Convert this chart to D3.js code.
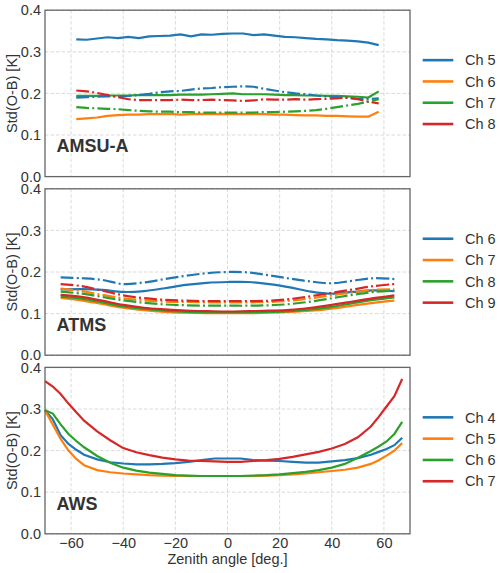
<!DOCTYPE html>
<html>
<head>
<meta charset="utf-8">
<script src="https://cdn.jsdelivr.net/npm/d3@7"></script>
<style>
  body { margin: 0; background: #fff; }
  #chart { width: 500px; height: 573px; }
  text { font-family: "Liberation Sans", Arial, sans-serif; fill: #333; }
</style>
</head>
<body>
<div id="chart"></div>
<script>
// ---- data ----
const amsuAngles = [-58, -54, -50, -46, -42, -38, -34, -30, -26, -22, -18, -14, -10, -6, -2, 2, 6, 10, 14, 18, 22, 26, 30, 34, 38, 42, 46, 50, 54, 58];
const amsuCh5 = [0.330, 0.329, 0.332, 0.335, 0.333, 0.336, 0.333, 0.337, 0.338, 0.339, 0.342, 0.337, 0.342, 0.341, 0.343, 0.344, 0.344, 0.340, 0.342, 0.339, 0.336, 0.335, 0.333, 0.331, 0.330, 0.328, 0.327, 0.325, 0.322, 0.316];
const amsuCh6 = [0.138, 0.140, 0.142, 0.146, 0.148, 0.149, 0.149, 0.150, 0.150, 0.151, 0.149, 0.150, 0.151, 0.150, 0.151, 0.150, 0.150, 0.150, 0.150, 0.149, 0.149, 0.148, 0.147, 0.147, 0.146, 0.146, 0.145, 0.144, 0.144, 0.156];
const amsuCh7 = [0.194, 0.194, 0.194, 0.195, 0.195, 0.195, 0.196, 0.196, 0.196, 0.196, 0.197, 0.197, 0.197, 0.198, 0.199, 0.200, 0.198, 0.198, 0.198, 0.197, 0.196, 0.196, 0.195, 0.195, 0.194, 0.194, 0.193, 0.192, 0.190, 0.205];
const amsuCh5b = [0.190, 0.191, 0.192, 0.193, 0.193, 0.194, 0.196, 0.199, 0.203, 0.205, 0.206, 0.209, 0.212, 0.213, 0.215, 0.216, 0.217, 0.216, 0.211, 0.207, 0.203, 0.200, 0.198, 0.195, 0.193, 0.191, 0.189, 0.187, 0.186, 0.188];
const amsuCh7b = [0.167, 0.165, 0.164, 0.163, 0.162, 0.160, 0.158, 0.157, 0.156, 0.156, 0.155, 0.155, 0.154, 0.154, 0.154, 0.154, 0.154, 0.154, 0.155, 0.155, 0.156, 0.157, 0.158, 0.160, 0.163, 0.167, 0.171, 0.175, 0.180, 0.186];
const amsuCh8b = [0.207, 0.205, 0.201, 0.196, 0.191, 0.186, 0.184, 0.184, 0.184, 0.184, 0.185, 0.184, 0.184, 0.185, 0.184, 0.183, 0.182, 0.183, 0.186, 0.185, 0.185, 0.186, 0.185, 0.186, 0.187, 0.188, 0.190, 0.186, 0.180, 0.176];

const atmsAngles = [-64, -56, -48, -40, -32, -24, -16, -8, 0, 8, 16, 24, 32, 40, 48, 56, 64];
const atmsCh6 = [0.158, 0.159, 0.157, 0.152, 0.154, 0.161, 0.169, 0.174, 0.176, 0.176, 0.171, 0.163, 0.153, 0.148, 0.152, 0.156, 0.154];
const atmsCh7 = [0.138, 0.132, 0.123, 0.114, 0.108, 0.104, 0.102, 0.101, 0.101, 0.101, 0.102, 0.104, 0.107, 0.112, 0.119, 0.126, 0.131];
const atmsCh8 = [0.141, 0.136, 0.127, 0.117, 0.111, 0.107, 0.104, 0.103, 0.103, 0.103, 0.104, 0.106, 0.110, 0.116, 0.125, 0.133, 0.139];
const atmsCh9 = [0.145, 0.140, 0.131, 0.121, 0.114, 0.110, 0.107, 0.106, 0.105, 0.106, 0.107, 0.109, 0.114, 0.121, 0.129, 0.137, 0.144];
const atmsCh6b = [0.187, 0.185, 0.181, 0.171, 0.175, 0.183, 0.191, 0.197, 0.200, 0.199, 0.192, 0.184, 0.177, 0.173, 0.179, 0.185, 0.183];
const atmsCh7b = [0.160, 0.154, 0.145, 0.137, 0.132, 0.129, 0.128, 0.127, 0.127, 0.127, 0.128, 0.131, 0.137, 0.144, 0.151, 0.157, 0.158];
const atmsCh8b = [0.153, 0.148, 0.140, 0.132, 0.126, 0.122, 0.120, 0.119, 0.119, 0.119, 0.120, 0.123, 0.129, 0.137, 0.145, 0.152, 0.155];
const atmsCh9b = [0.171, 0.166, 0.155, 0.144, 0.137, 0.133, 0.131, 0.130, 0.130, 0.130, 0.131, 0.135, 0.142, 0.150, 0.158, 0.166, 0.171];

const awsAngles = [-70, -67, -64, -61, -58, -55, -50, -45, -40, -35, -30, -25, -20, -15, -10, -5, 0, 5, 10, 15, 20, 25, 30, 35, 40, 45, 50, 55, 58, 61, 64, 67];
const awsCh4 = [0.297, 0.275, 0.237, 0.216, 0.202, 0.190, 0.179, 0.172, 0.169, 0.167, 0.167, 0.168, 0.170, 0.173, 0.177, 0.181, 0.181, 0.181, 0.177, 0.176, 0.175, 0.173, 0.171, 0.171, 0.174, 0.177, 0.182, 0.190, 0.197, 0.204, 0.213, 0.231];
const awsCh5 = [0.297, 0.262, 0.228, 0.200, 0.180, 0.165, 0.153, 0.148, 0.145, 0.143, 0.141, 0.140, 0.139, 0.139, 0.139, 0.139, 0.139, 0.139, 0.139, 0.140, 0.141, 0.143, 0.145, 0.148, 0.151, 0.154, 0.159, 0.168, 0.177, 0.188, 0.200, 0.218];
const awsCh6 = [0.297, 0.289, 0.263, 0.240, 0.223, 0.208, 0.187, 0.171, 0.159, 0.152, 0.147, 0.144, 0.141, 0.140, 0.139, 0.139, 0.139, 0.139, 0.140, 0.141, 0.143, 0.146, 0.149, 0.153, 0.159, 0.168, 0.183, 0.199, 0.210, 0.222, 0.240, 0.269];
const awsCh7 = [0.367, 0.354, 0.336, 0.313, 0.292, 0.272, 0.246, 0.225, 0.206, 0.196, 0.189, 0.183, 0.179, 0.176, 0.175, 0.174, 0.173, 0.173, 0.175, 0.177, 0.180, 0.185, 0.191, 0.197, 0.205, 0.216, 0.232, 0.258, 0.281, 0.306, 0.331, 0.372];

const amsuLegend = ["Ch 5", "Ch 6", "Ch 7", "Ch 8"];
const atmsLegend = ["Ch 6", "Ch 7", "Ch 8", "Ch 9"];
const awsLegend = ["Ch 4", "Ch 5", "Ch 6", "Ch 7"];
const xTicks = [-60, -40, -20, 0, 20, 40, 60];
const yTicks = [0.0, 0.1, 0.2, 0.3, 0.4];
const colors = ["#1f77b4", "#ff7f0e", "#2ca02c", "#d62728"];

// panel definitions (solid / dash-dot series, color index)
const panels = [
    {
        name: "AMSU-A", angles: amsuAngles, legend: amsuLegend, curve: d3.curveLinear,
        series: [
            { values: amsuCh5, color: 0, dash: false },
            { values: amsuCh6, color: 1, dash: false },
            { values: amsuCh7, color: 2, dash: false },
            { values: amsuCh5b, color: 0, dash: true },
            { values: amsuCh7b, color: 2, dash: true },
            { values: amsuCh8b, color: 3, dash: true }
        ]
    },
    {
        name: "ATMS", angles: atmsAngles, legend: atmsLegend, curve: d3.curveCatmullRom,
        series: [
            { values: atmsCh6, color: 0, dash: false },
            { values: atmsCh7, color: 1, dash: false },
            { values: atmsCh8, color: 2, dash: false },
            { values: atmsCh9, color: 3, dash: false },
            { values: atmsCh6b, color: 0, dash: true },
            { values: atmsCh7b, color: 1, dash: true },
            { values: atmsCh8b, color: 2, dash: true },
            { values: atmsCh9b, color: 3, dash: true }
        ]
    },
    {
        name: "AWS", angles: awsAngles, legend: awsLegend, curve: d3.curveLinear,
        series: [
            { values: awsCh4, color: 0, dash: false },
            { values: awsCh5, color: 1, dash: false },
            { values: awsCh6, color: 2, dash: false },
            { values: awsCh7, color: 3, dash: false }
        ]
    }
];

// ---- layout ----
const width = 500, height = 573;
const margin = { left: 45, right: 90 };
const panelTops = [10.2, 188.8, 367.4];
const panelHeight = 166.4;

const svg = d3.select("#chart")
    .append("svg")
    .attr("width", width)
    .attr("height", height);

const xScale = d3.scaleLinear()
    .domain([-70, 70])
    .range([margin.left, width - margin.right]);

panels.forEach((p, pi) => {
    const top = panelTops[pi];
    const yScale = d3.scaleLinear()
        .domain([0, 0.4])
        .range([top + panelHeight, top]);

    const g = svg.append("g");

    // grid lines
    g.append("g")
        .selectAll("line")
        .data(xTicks)
        .enter()
        .append("line")
        .attr("x1", d => xScale(d))
        .attr("x2", d => xScale(d))
        .attr("y1", top)
        .attr("y2", top + panelHeight)
        .attr("stroke", "#d0d0d0")
        .attr("stroke-width", 0.8)
        .attr("stroke-dasharray", "3.5,2");

    g.append("g")
        .selectAll("line")
        .data(yTicks)
        .enter()
        .append("line")
        .attr("x1", xScale(-70))
        .attr("x2", xScale(70))
        .attr("y1", d => yScale(d))
        .attr("y2", d => yScale(d))
        .attr("stroke", "#d0d0d0")
        .attr("stroke-width", 0.8)
        .attr("stroke-dasharray", "3.5,2");

    // series lines
    const line = d3.line()
        .x((d, i) => xScale(p.angles[i]))
        .y(d => yScale(d))
        .curve(p.curve);

    p.series.forEach(s => {
        g.append("path")
            .datum(s.values)
            .attr("d", line)
            .attr("fill", "none")
            .attr("stroke", colors[s.color])
            .attr("stroke-width", 2.2)
            .attr("stroke-dasharray", s.dash ? "12.8,3.2,2,3.2" : null);
    });

    // frame
    g.append("rect")
        .attr("x", xScale(-70))
        .attr("y", top)
        .attr("width", xScale(70) - xScale(-70))
        .attr("height", panelHeight)
        .attr("fill", "none")
        .attr("stroke", "#666")
        .attr("stroke-width", 1.3);

    // y axis tick labels
    const yAxis = g.append("g")
        .attr("transform", `translate(${xScale(-70)},0)`)
        .call(d3.axisLeft(yScale).tickValues(yTicks).tickFormat(d3.format(".1f")).tickSize(0).tickPadding(4));
    yAxis.select(".domain").remove();
    yAxis.selectAll("text")
        .attr("fill", "#333")
        .style("font-size", "14.5px")
        .style("font-family", "'Liberation Sans', Arial, sans-serif");

    g.append("text")
        .attr("transform", "rotate(-90)")
        .attr("x", -(top + panelHeight / 2))
        .attr("y", 16.5)
        .attr("text-anchor", "middle")
        .style("font-size", "14.5px")
        .text("Std(O-B) [K]");

    // instrument label
    g.append("text")
        .attr("x", 56.5)
        .attr("y", top + panelHeight - 24.2)
        .style("font-size", "18px")
        .style("font-weight", "bold")
        .text(p.name);

    // legend
    const legendMid = top + panelHeight / 2 - 1.3;
    p.legend.forEach((label, i) => {
        const ly = legendMid + (i - 1.5) * 21.3;
        g.append("line")
            .attr("x1", 422.7)
            .attr("x2", 453.3)
            .attr("y1", ly)
            .attr("y2", ly)
            .attr("stroke", colors[i])
            .attr("stroke-width", 2.6);
        g.append("text")
            .attr("x", 465)
            .attr("y", ly)
            .attr("dy", "0.36em")
            .style("font-size", "14.5px")
            .text(label);
    });

    // x axis only on bottom panel
    if (pi === panels.length - 1) {
        const xAxis = g.append("g")
            .attr("transform", `translate(0,${top + panelHeight})`)
            .call(d3.axisBottom(xScale).tickValues(xTicks).tickSize(0).tickPadding(4));
        xAxis.select(".domain").remove();
        xAxis.selectAll("text")
            .attr("fill", "#333")
            .style("font-size", "14.5px")
            .style("font-family", "'Liberation Sans', Arial, sans-serif");

        g.append("text")
            .attr("x", xScale(0))
            .attr("y", 564)
            .attr("text-anchor", "middle")
            .style("font-size", "14.5px")
            .text("Zenith angle [deg.]");
    }
});
</script>
</body>
</html>
